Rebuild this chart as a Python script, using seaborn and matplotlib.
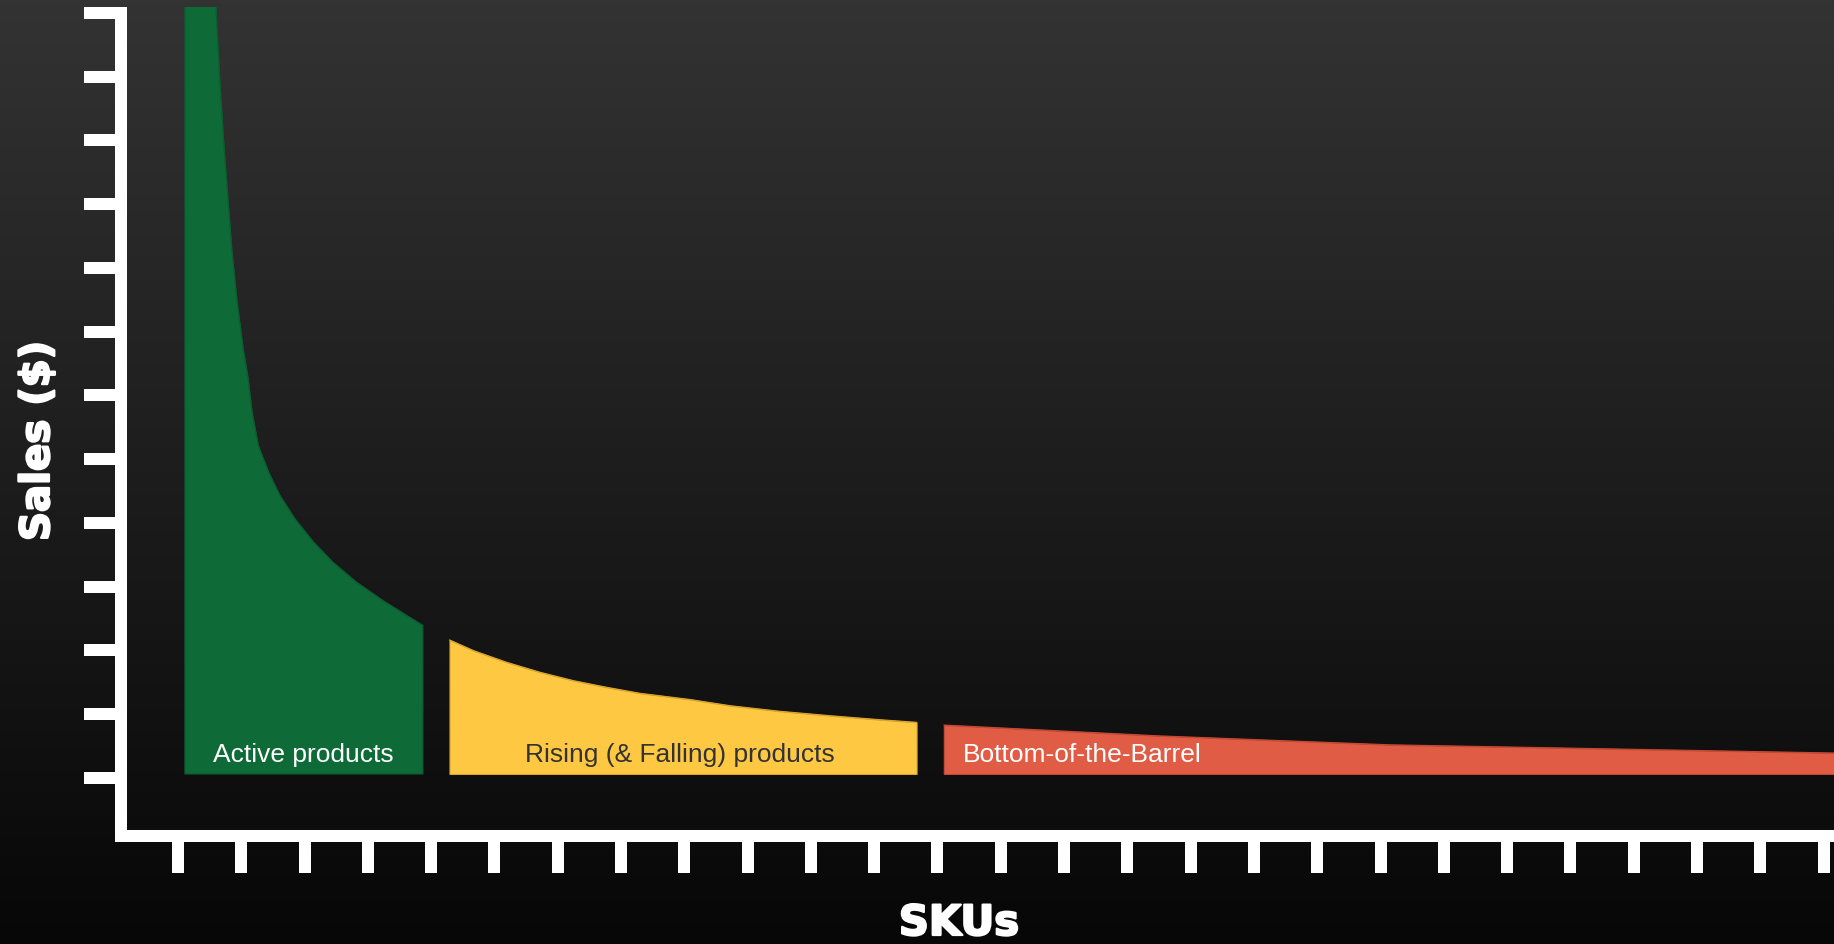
import numpy as np
import pandas as pd
import matplotlib
matplotlib.use("Agg")
import matplotlib.pyplot as plt
import matplotlib.patheffects as pe
import seaborn as sns

# Long-tail of SKU sales, split into three groups
active_x = [1.01, 1.50, 1.56, 1.63, 1.75, 1.83, 1.93, 2.01, 2.07, 2.17, 2.33, 2.51,
            2.75, 3.04, 3.35, 3.72, 4.14, 4.51, 4.77]
active_y = [21.6, 13.00, 11.87, 10.78, 9.21, 8.42, 7.64, 7.17, 6.65, 6.12, 5.71, 5.34,
            4.97, 4.61, 4.29, 3.98, 3.69, 3.46, 3.30]

rising_x = [5.19, 5.57, 6.09, 6.62, 7.15, 7.67, 8.20, 8.99, 9.62, 10.41, 11.20,
            11.99, 12.57]
rising_y = [3.075, 2.907, 2.725, 2.568, 2.436, 2.333, 2.238, 2.141, 2.044, 1.956,
            1.887, 1.824, 1.783]

barrel_x = [13.00, 16.41, 20.06, 27.16]
barrel_y = [1.74, 1.57, 1.43, 1.30]

baseline = 0.973

groups = ["Active products", "Rising (& Falling) products", "Bottom-of-the-Barrel"]
group_x = [active_x, rising_x, barrel_x]
group_y = [active_y, rising_y, barrel_y]
colors = ["#0e6b37", "#ffc843", "#e05c44"]
edges = ["#0c5e30", "#d9a52c", "#c44a35"]
text_colors = ["white", "#333333", "white"]

x_ticks = [0.9 + k for k in range(27)]
y_ticks = [0.91 + k for k in range(13)]

sns.set_theme(style="dark")
plt.rcParams["font.family"] = ["Liberation Sans", "DejaVu Sans"]

W, H = 1834, 945
fig = plt.figure(figsize=(W / 100, H / 100), dpi=100)

# dark vertical gradient background
bg = fig.add_axes([0, 0, 1, 1], zorder=-1)
grad = np.linspace(0x33, 0x07, 256) / 255.0
img = np.repeat(grad[:, None], 2, axis=1)
bg.imshow(np.dstack([img, img, img]), aspect="auto", extent=[0, 1, 0, 1])
bg.set_axis_off()

ax = fig.add_axes([121 / W, (H - 837) / H, (1840 - 121) / W, (837 - 8) / H])
ax.set_facecolor("none")

rows = []
for g, xs, ys in zip(groups, group_x, group_y):
    for x, y in zip(xs, ys):
        rows.append({"sku": x, "sales": y, "group": g})
df = pd.DataFrame(rows)

for g, c, ec in zip(groups, colors, edges):
    d = df[df["group"] == g]
    ax.fill_between(d["sku"], baseline, d["sales"], facecolor=c,
                    edgecolor=ec, linewidth=0.8, zorder=2)
sns.lineplot(data=df, x="sku", y="sales", hue="group", hue_order=groups,
             palette=dict(zip(groups, edges)), legend=False, linewidth=0.8,
             ax=ax, zorder=3)

# group labels inside the areas
ax.text(2.875, 1.18, groups[0], color=text_colors[0], fontsize=19,
        ha="center", va="baseline", zorder=4)
ax.text(8.83, 1.18, groups[1], color=text_colors[1], fontsize=19,
        ha="center", va="baseline", zorder=4)
ax.text(13.30, 1.18, groups[2], color=text_colors[2], fontsize=19,
        ha="left", va="baseline", zorder=4)

ax.set_xlim(0, 27.16)
ax.set_ylim(0, 13.0)
ax.set_xticks(x_ticks)
ax.set_yticks(y_ticks)
ax.set_xticklabels([])
ax.set_yticklabels([])
ax.set_xlabel("")
ax.set_ylabel("")
ax.grid(False)

for side in ["top", "right"]:
    ax.spines[side].set_visible(False)
for side in ["left", "bottom"]:
    ax.spines[side].set_visible(True)
    ax.spines[side].set_color("white")
    ax.spines[side].set_linewidth(8.64)
ax.spines["bottom"].set_capstyle("projecting")
ax.spines["left"].set_capstyle("butt")

ax.tick_params(axis="both", which="major", direction="out", color="white",
               length=26.6, width=8.64, left=True, bottom=True)

heavy = [pe.withStroke(linewidth=1.6, foreground="white")]
fig.text(959 / W, 1 - 924 / H, "SKUs", color="white", fontsize=30,
         fontweight="bold", family="DejaVu Sans", ha="center", va="center",
         path_effects=heavy)
fig.text(38 / W, 1 - 442 / H, "Sales ($)", color="white", fontsize=29,
         fontweight="bold", family="DejaVu Sans", ha="center", va="center",
         rotation=90, path_effects=heavy)

fig.savefig("out.png", dpi=100)
plt.close(fig)
